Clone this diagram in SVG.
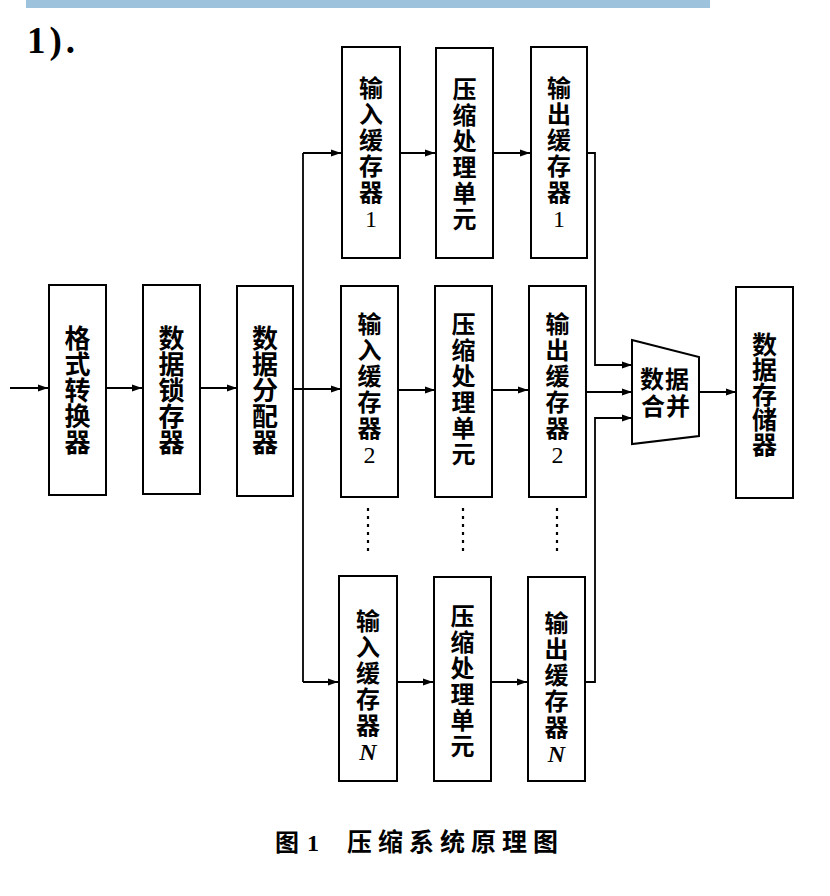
<svg xmlns="http://www.w3.org/2000/svg" width="830" height="896" viewBox="0 0 830 896">
<defs>
<marker id="ah" markerUnits="userSpaceOnUse" markerWidth="10" markerHeight="8" refX="10" refY="4" orient="auto">
<path d="M0,0.5 L10,4 L0,7.5 z" fill="#000"/>
</marker>
<style>
.box{fill:#fff;stroke:#000;stroke-width:2}
.c{fill:none;stroke:#000;stroke-width:1.8}
.a{marker-end:url(#ah)}
.t{font-family:"Noto Sans CJK SC","Noto Sans",sans-serif;font-weight:bold;font-size:24px;fill:#000}
.v{writing-mode:vertical-rl;text-orientation:upright;letter-spacing:2px}
.big{font-size:26px;letter-spacing:0}
.st{font-size:25px;letter-spacing:0}
.num{font-family:"Liberation Serif",serif;font-weight:normal}
.it{font-family:"Liberation Serif",serif;font-style:italic;font-weight:bold}
.h{text-anchor:middle}
.dots{fill:none;stroke:#000;stroke-width:2.2;stroke-dasharray:3,5}
</style>
</defs>
<rect width="830" height="896" fill="#fff"/>
<g id="header">
<rect x="26" y="0" width="684" height="8" fill="#9DC3DC"/>
<text x="27" y="53" font-family="Liberation Serif,serif" font-weight="bold" font-size="37" letter-spacing="4">1).</text>
</g>
<g id="connectors">
<path class="c a" d="M10 388 H48"/>
<path class="c a" d="M106 388 H142"/>
<path class="c a" d="M200 388 H237"/>
<path class="c a" d="M293 389 H341"/>
<path class="c" d="M303 153 V682"/>
<path class="c a" d="M303 153 H341"/>
<path class="c a" d="M303 682 H338"/>
<path class="c a" d="M400 153 H435"/>
<path class="c a" d="M493 153 H530"/>
<path class="c a" d="M587 153 H595 V365 H632"/>
<path class="c a" d="M398 390 H435"/>
<path class="c a" d="M492 390 H528"/>
<path class="c a" d="M586 392 H632"/>
<path class="c a" d="M397 682 H433"/>
<path class="c a" d="M491 682 H527"/>
<path class="c a" d="M585 682 H595 V418 H632"/>
<path class="c a" d="M699 392 H736"/>
<path class="dots" d="M368 508 V556"/>
<path class="dots" d="M463 508 V556"/>
<path class="dots" d="M557 508 V556"/>
</g>
<g id="fmt">
<rect class="box" x="49" y="285" width="57" height="210"/>
<text class="t v big" x="77.5" y="325">格式转换器</text>
</g>
<g id="latch">
<rect class="box" x="143" y="285" width="57" height="209"/>
<text class="t v big" x="171.5" y="325">数据锁存器</text>
</g>
<g id="dist">
<rect class="box" x="237" y="286" width="56" height="210"/>
<text class="t v big" x="265" y="325">数据分配器</text>
</g>
<g id="ib1">
<rect class="box" x="342" y="47" width="58" height="211"/>
<text class="t v" x="371" y="76">输入缓存器<tspan class="num">1</tspan></text>
</g>
<g id="cp1">
<rect class="box" x="436" y="48" width="57" height="210"/>
<text class="t v" x="464.5" y="77">压缩处理单元</text>
</g>
<g id="ob1">
<rect class="box" x="531" y="47" width="56" height="211"/>
<text class="t v" x="559" y="76">输出缓存器<tspan class="num">1</tspan></text>
</g>
<g id="ib2">
<rect class="box" x="341" y="286" width="57" height="211"/>
<text class="t v" x="369.5" y="312">输入缓存器<tspan class="num">2</tspan></text>
</g>
<g id="cp2">
<rect class="box" x="435" y="286" width="57" height="211"/>
<text class="t v" x="463.5" y="312">压缩处理单元</text>
</g>
<g id="ob2">
<rect class="box" x="529" y="286" width="57" height="211"/>
<text class="t v" x="557.5" y="312">输出缓存器<tspan class="num">2</tspan></text>
</g>
<g id="ibn">
<rect class="box" x="339" y="576" width="58" height="205"/>
<text class="t v" x="368" y="609">输入缓存器<tspan class="it">N</tspan></text>
</g>
<g id="cpn">
<rect class="box" x="434" y="577" width="57" height="204"/>
<text class="t v" x="462.5" y="604">压缩处理单元</text>
</g>
<g id="obn">
<rect class="box" x="528" y="577" width="57" height="204"/>
<text class="t v" x="556.5" y="611">输出缓存器<tspan class="it">N</tspan></text>
</g>
<g id="merge">
<polygon class="box" points="632,340 699,357 699,436 632,444"/>
<text class="t h" x="665" y="388" letter-spacing="1">数据</text>
<text class="t h" x="666" y="415" letter-spacing="1">合并</text>
</g>
<g id="store">
<rect class="box" x="736" y="287" width="57" height="211"/>
<text class="t v st" x="764.5" y="332">数据存储器</text>
</g>
<g id="caption">
<text x="275" y="851" font-family="Noto Sans CJK SC,sans-serif" font-weight="bold" font-size="24">图</text>
<text x="307" y="851" font-family="Liberation Serif,serif" font-weight="bold" font-size="24">1</text>
<text x="347" y="851" font-family="Noto Sans CJK SC,sans-serif" font-weight="bold" font-size="25" letter-spacing="6">压缩系统原理图</text>
</g>
</svg>
